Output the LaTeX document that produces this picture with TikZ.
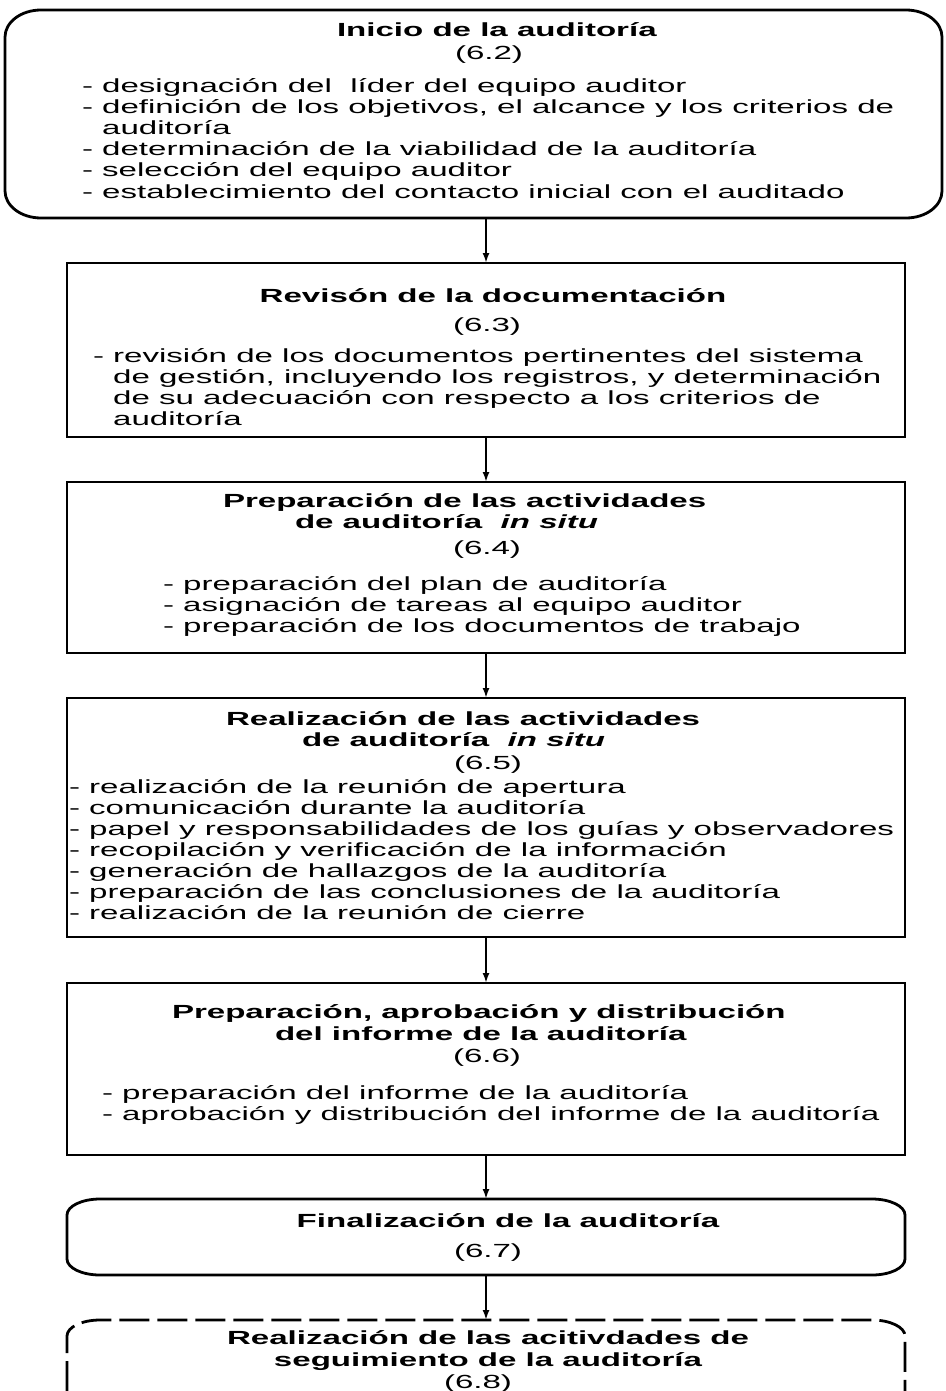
\documentclass[tikz,border=0pt]{standalone}
\usepackage{fontspec}
\setmainfont{Liberation Sans}[FakeStretch=1.74]
\usetikzlibrary{arrows.meta}
\newcommand{\bodyfont}{\fontsize{19pt}{21pt}\selectfont}
\newcommand{\ind}{\hphantom{- }}
% frame with elliptical corners round a node: #1 options, #2 node, #3 x radius, #4 y radius
\newcommand{\ovalframe}[4]{%
  \draw[#1] ([xshift=#3]#2.north west) -- ([xshift=-#3]#2.north east)
    arc[start angle=90, end angle=0, x radius=#3, y radius=#4]
    -- ([yshift=#4]#2.south east)
    arc[start angle=0, end angle=-90, x radius=#3, y radius=#4]
    -- ([xshift=#3]#2.south west)
    arc[start angle=270, end angle=180, x radius=#3, y radius=#4]
    -- ([yshift=-#4]#2.north west)
    arc[start angle=180, end angle=90, x radius=#3, y radius=#4] -- cycle;}
\begin{document}
\begin{tikzpicture}[x=1pt,y=-1pt,
  every node/.style={inner sep=0pt, outer sep=0pt},
  area/.style={anchor=north west},
  frame/.style={area, draw, line width=2.8pt},
  edge/.style={line width=2.8pt},
  hd/.style={anchor=base west, font=\bodyfont\bfseries},
  hdc/.style={anchor=base, font=\bodyfont\bfseries},
  num/.style={anchor=base, font=\bodyfont},
  item/.style={anchor=base west, font=\bodyfont},
  flow/.style={-{Latex[length=10pt,width=7pt]}, line width=2.2pt}]
\useasboundingbox (0,0) rectangle (945,1391);

% ---- boxes ----
\node[area, minimum width=937pt, minimum height=208pt] (b1) at (5,10) {};
\ovalframe{edge}{b1}{36pt}{27pt}
\node[frame, minimum width=838pt, minimum height=174pt] (b2) at (67,263) {};
\node[frame, minimum width=838pt, minimum height=171pt] (b3) at (67,482) {};
\node[frame, minimum width=838pt, minimum height=239pt] (b4) at (67,698) {};
\node[frame, minimum width=838pt, minimum height=172pt] (b5) at (67,983) {};
\node[area, minimum width=838pt, minimum height=76pt] (b6) at (67,1199) {};
\ovalframe{edge}{b6}{33pt}{16pt}
\node[area, minimum width=838pt, minimum height=71pt] (b7) at (67,1320) {};
\draw[edge, dash pattern=on 30pt off 8pt]
  (b7.south west) -- ([yshift=-16pt]b7.north west)
  arc[start angle=180, end angle=90, x radius=33pt, y radius=16pt]
  -- ([xshift=-33pt]b7.north east)
  arc[start angle=90, end angle=0, x radius=33pt, y radius=16pt]
  -- (b7.south east);

% ---- connectors ----
\draw[flow] (b2.north |- b1.south) -- (b2.north);
\draw[flow] (b2.south) -- (b3.north);
\draw[flow] (b3.south) -- (b4.north);
\draw[flow] (b4.south) -- (b5.north);
\draw[flow] (b5.south) -- (b6.north);
\draw[flow] (b6.south) -- (b7.north);

% ---- 6.2 ----
\node[hd] (t1) at (337,37) {Inicio de la auditoría};
\node[num] (n1) at (489,60) {(6.2)};
\foreach [count=\k from 0] \t in {
  {- designación del \ líder del equipo auditor},
  {- definición de los objetivos, el alcance y los criterios de},
  {\ind auditoría},
  {- determinación de la viabilidad de la auditoría},
  {- selección del equipo auditor},
  {- establecimiento del contacto inicial con el auditado}}
  \node[item] (i1-\k) at (82,93+21*\k) {\t};

% ---- 6.3 ----
\node[hdc] (t2) at (493,302) {Revisón de la documentación};
\node[num] (n2) at (487,331) {(6.3)};
\foreach [count=\k from 0] \t in {
  {- revisión de los documentos pertinentes del sistema},
  {\ind de gestión, incluyendo los registros, y determinación},
  {\ind de su adecuación con respecto a los criterios de},
  {\ind auditoría}}
  \node[item] (i2-\k) at (93,362+21*\k) {\t};

% ---- 6.4 ----
\node[hd] (t3a) at (223,507) {Preparación de las actividades};
\node[hd] (t3b) at (295,528) {de auditoría \ \textit{in situ}};
\node[num] (n3) at (487,554) {(6.4)};
\foreach [count=\k from 0] \t in {
  {- preparación del plan de auditoría},
  {- asignación de tareas al equipo auditor},
  {- preparación de los documentos de trabajo}}
  \node[item] (i3-\k) at (163,590+21*\k) {\t};

% ---- 6.5 ----
\node[hd] (t4a) at (226,725) {Realización de las actividades};
\node[hd] (t4b) at (302,746) {de auditoría \ \textit{in situ}};
\node[num] (n4) at (488,769) {(6.5)};
\foreach [count=\k from 0] \t in {
  {- realización de la reunión de apertura},
  {- comunicación durante la auditoría},
  {- papel y responsabilidades de los guías y observadores},
  {- recopilación y verificación de la información},
  {- generación de hallazgos de la auditoría},
  {- preparación de las conclusiones de la auditoría},
  {- realización de la reunión de cierre}}
  \node[item] (i4-\k) at (69,793+21*\k) {\t};

% ---- 6.6 ----
\node[hd] (t5a) at (172,1018) {Preparación, aprobación y distribución};
\node[hd] (t5b) at (275,1040) {del informe de la auditoría};
\node[num] (n5) at (487,1062) {(6.6)};
\foreach [count=\k from 0] \t in {
  {- preparación del informe de la auditoría},
  {- aprobación y distribución del informe de la auditoría}}
  \node[item] (i5-\k) at (102,1099+21*\k) {\t};

% ---- 6.7 ----
\node[hdc] (t6) at (508,1227) {Finalización de la auditoría};
\node[num] (n6) at (488,1257) {(6.7)};

% ---- 6.8 ----
\node[hdc] (t7a) at (488,1344) {Realización de las acitivdades de};
\node[hdc] (t7b) at (488,1366) {seguimiento de la auditoría};
\node[num] (n7) at (478,1388) {(6.8)};
\end{tikzpicture}
\end{document}
